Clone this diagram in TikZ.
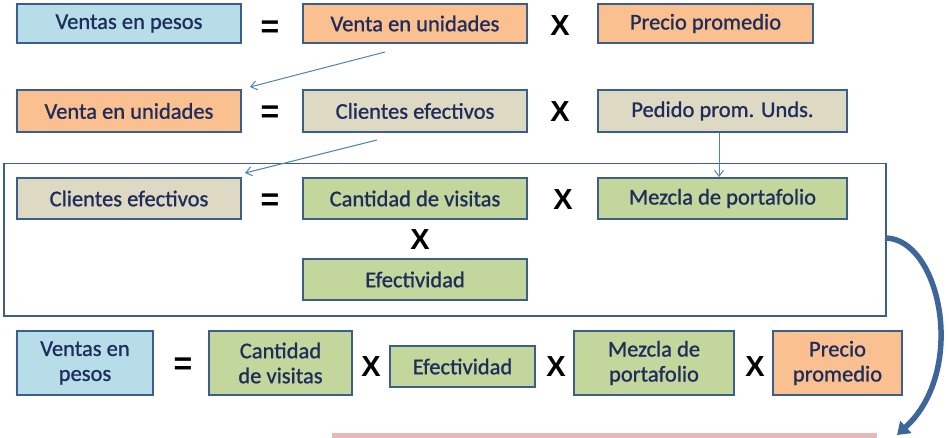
\documentclass[tikz,border=0pt]{standalone}
\usepackage{fontspec}
\setmainfont[FakeBold=1]{Carlito}
\newfontfamily\opfont{Liberation Sans}
\usetikzlibrary{arrows.meta}
\definecolor{bxborder}{HTML}{3B5E8C}
\definecolor{txtblue}{HTML}{1F2D5C}
\definecolor{fblue}{HTML}{B7DEE8}
\definecolor{forange}{HTML}{FAC090}
\definecolor{ftan}{HTML}{DDD9C3}
\definecolor{fgreen}{HTML}{C3D69B}
\definecolor{fpink}{HTML}{E6B9B8}
\definecolor{arrblue}{HTML}{4F81BD}
\definecolor{bigarr}{HTML}{3D6699}
\tikzset{
  bx/.style={draw=bxborder, line width=1.8pt, inner sep=0pt, align=center,
    text=txtblue, font=\fontsize{22.5}{25}\selectfont},
  bxw/.style 2 args={bx, minimum width=#1pt, minimum height=#2pt},
  op/.style={inner sep=0pt, font=\opfont\bfseries\fontsize{29}{29}\selectfont, text=black},
  eqop/.style={inner sep=0pt, font=\opfont\bfseries\fontsize{32}{32}\selectfont, text=black},
  thinarr/.style={draw=arrblue, line width=1pt, -{Straight Barb[length=6pt,width=9pt]}},
}
\begin{document}
\begin{tikzpicture}[x=1pt,y=-1pt]
\useasboundingbox (0,0) rectangle (949,438);
% frame
\node[draw=bxborder, line width=1.5pt, fill=white, minimum width=882pt, minimum height=152pt, inner sep=0pt, anchor=north west] (frame) at (3,163) {};
% row 1
\node[bxw={224}{39}, fill=fblue] (vp1) at (129,23.5) {Ventas en pesos};
\node[eqop] (eq1) at (270,29) {=};
\node[bxw={224}{39}, fill=forange] (vu1) at (415,23.5) {Venta en unidades};
\node[op] (x1) at (560,26) {X};
\node[bxw={215}{39}, fill=forange] (pp1) at (705.5,23.5) {Precio promedio};
% row 2
\node[bxw={224}{42}, fill=forange] (vu2) at (129,111) {Venta en unidades};
\node[eqop] (eq2) at (270,114) {=};
\node[bxw={224}{42}, fill=ftan] (ce2) at (415,111) {Clientes efectivos};
\node[op] (x2) at (560,112) {X};
\node[bxw={249}{42}, fill=ftan] (pu2) at (722.5,111) {Pedido prom. Unds.};
% row 3
\node[bxw={224}{41}, fill=ftan] (ce3) at (129,198.5) {Clientes efectivos};
\node[eqop] (eq3) at (270,202) {=};
\node[bxw={224}{41}, fill=fgreen] (cv3) at (415,198.5) {Cantidad de visitas};
\node[op] (x3) at (563,200) {X};
\node[bxw={249}{41}, fill=fgreen] (mp3) at (722.5,198.5) {Mezcla de portafolio};
\node[op] (x4) at (420,240) {X};
\node[bxw={224}{41}, fill=fgreen] (ef3) at (415,279.5) {Efectividad};
% row 4
\node[bxw={136}{64}, fill=fblue] (vp4) at (85,363) {Ventas en\\pesos};
\node[eqop] (eq4) at (183,366) {=};
\node[bxw={143}{64}, fill=fgreen] (cv4) at (280.5,363) {Cantidad\\de visitas};
\node[op] (x5) at (371,367) {X};
\node[bxw={145}{41}, fill=fgreen] (ef4) at (462.5,366.5) {Efectividad};
\node[op] (x6) at (556,367) {X};
\node[bxw={160}{64}, fill=fgreen] (mp4) at (654,363) {Mezcla de\\portafolio};
\node[op] (x7) at (755,367) {X};
\node[bxw={129}{64}, fill=forange] (pp4) at (837.5,363) {Precio\\promedio};
% pink bar
\node[fill=fpink, inner sep=0pt, minimum width=545pt, minimum height=6pt, anchor=north west] (pink) at (332,433) {};
% thin arrows
\coordinate (a1s) at (385,52);
\coordinate (a1e) at (250,87);
\coordinate (a2s) at (377,140);
\coordinate (a2e) at (245,173);
\draw[thinarr] (a1s) -- (a1e);
\draw[thinarr] (a2s) -- (a2e);
\draw[thinarr] (pu2.south -| 719,0) -- (mp3.north -| 719,0);
% big curved arrow
\coordinate (cs) at (885,238);
\coordinate (ce) at (897,435);
\draw[bigarr, line width=5.5pt, -{Triangle[length=12pt,width=16pt]}] (cs) .. controls (940,238) and (968,370) .. (ce);
\end{tikzpicture}
\end{document}
